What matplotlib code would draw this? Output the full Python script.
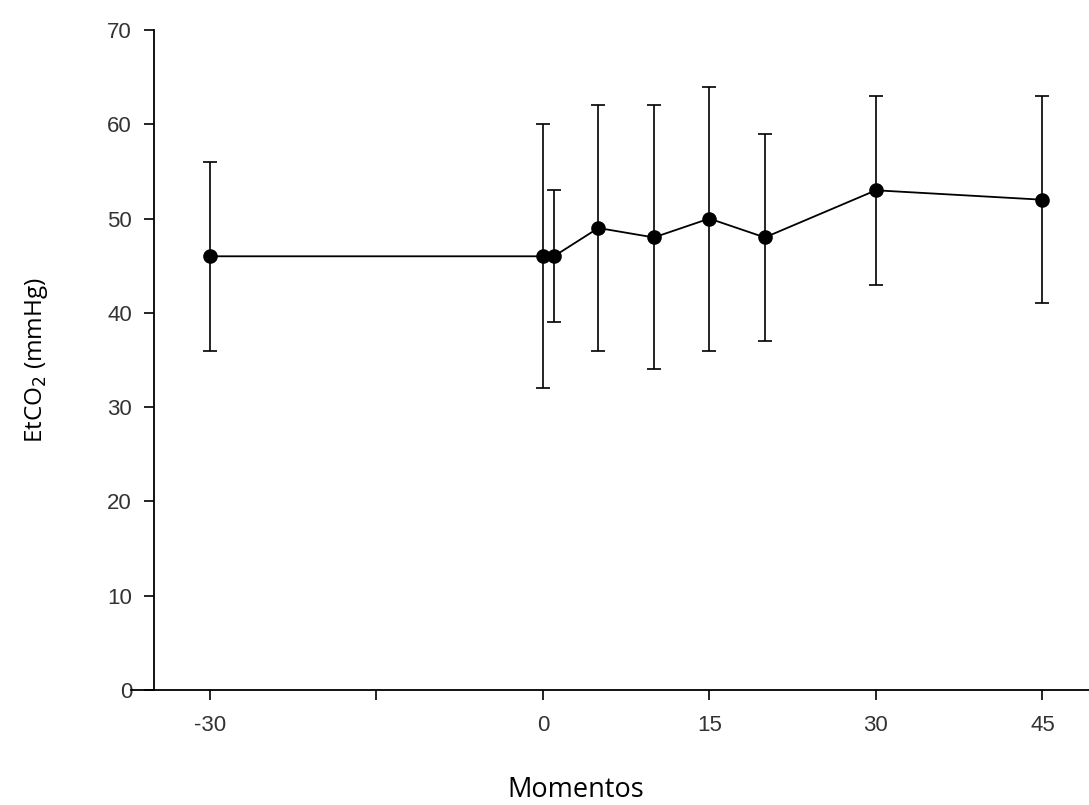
import numpy as np
import matplotlib
matplotlib.use("Agg")
import matplotlib.pyplot as plt

# data
momentos = [-30, 0, 1, 5, 10, 15, 20, 30, 45]
etco2 = [46, 46, 46, 49, 48, 50, 48, 53, 52]
err_low = [36, 32, 39, 36, 34, 36, 37, 43, 41]
err_high = [56, 60, 53, 62, 62, 64, 59, 63, 63]
xticks = [-30, -15, 0, 15, 30, 45]
xticklabels = ['-30', '', '0', '15', '30', '45']
yticks = [0, 10, 20, 30, 40, 50, 60, 70]

fig = plt.figure(figsize=(10.89, 8.05), dpi=100)
ax = fig.add_axes([0.1203, 0.1429, 0.8797, 0.8198])

y = np.array(etco2)
yerr = [y - np.array(err_low), np.array(err_high) - y]
ax.errorbar(momentos, etco2, yerr=yerr, color='black', lw=1.3,
            marker='o', markersize=9.5, capsize=5, capthick=1.2, elinewidth=1.2)

ax.set_xlim(-37.1, 49.2)
ax.set_ylim(0, 70)
ax.spines['top'].set_visible(False)
ax.spines['right'].set_visible(False)
ax.spines['left'].set_position(('data', -35))
ax.spines['left'].set_linewidth(1.3)
ax.spines['bottom'].set_linewidth(1.3)

tickfont = ['Liberation Sans', 'DejaVu Sans']
ax.set_xticks(xticks)
ax.set_xticklabels(xticklabels, family=tickfont, fontsize=16, color='#333333')
ax.set_yticks(yticks)
ax.set_yticklabels([str(v) for v in yticks], family=tickfont, fontsize=16, color='#333333')
ax.tick_params(axis='y', direction='out', length=7, width=1.2, pad=9)
ax.tick_params(axis='x', direction='out', length=7, width=1.2, pad=11)

ax.set_xlabel('Momentos', family=['Open Sans', 'DejaVu Sans'], fontsize=19.5)
ax.set_ylabel('EtCO$_2$ (mmHg)', family=['Open Sans', 'DejaVu Sans'], fontsize=17.5)
ax.xaxis.set_label_coords(0.464, -0.131)
ax.yaxis.set_label_coords(-0.085, 0.5)

fig.savefig('out.png', dpi=100)
